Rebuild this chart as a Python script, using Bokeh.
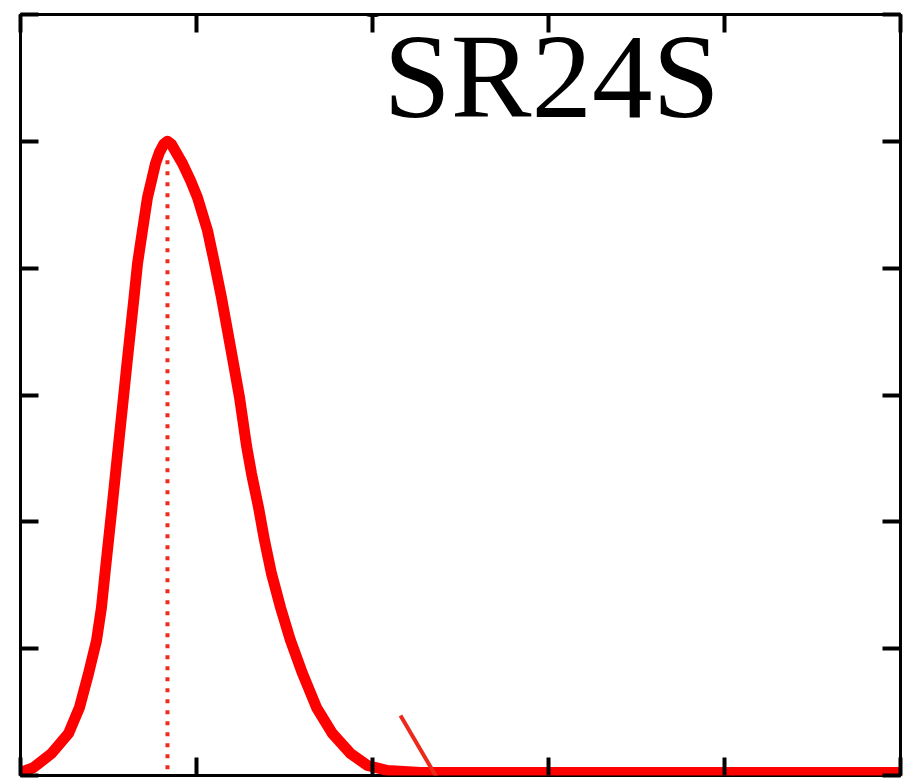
from bokeh.plotting import figure
from bokeh.models import Range1d, FixedTicker, LinearAxis, Label
from bokeh.embed import file_html
from bokeh.resources import INLINE

# ---- data ----
curve_x = [0.0000, 0.0148, 0.0352, 0.0545, 0.0670, 0.0773, 0.0864, 0.0920, 0.0960,
           0.1000, 0.1040, 0.1080, 0.1119, 0.1170, 0.1210, 0.1250, 0.1290, 0.1330,
           0.1386, 0.1443, 0.1489, 0.1534, 0.1580, 0.1630, 0.1670, 0.1715,
           0.1770, 0.1841, 0.1932, 0.2011, 0.2125, 0.2205, 0.2284, 0.2352, 0.2420,
           0.2489, 0.2568, 0.2625, 0.2705, 0.2773, 0.2852, 0.2955, 0.3068, 0.3205,
           0.3364, 0.3545, 0.3750, 0.3943, 0.4170, 0.4545, 0.6591, 1.0000]
curve_y = [0.0047, 0.0126, 0.0347, 0.0662, 0.1072, 0.1608, 0.2129, 0.2649, 0.3185,
           0.3706, 0.4226, 0.4762, 0.5283, 0.5961, 0.6497, 0.7017, 0.7537, 0.8074,
           0.8594, 0.9114, 0.9382, 0.9650, 0.9830, 0.9960, 1.0000, 0.9955,
           0.9820, 0.9650, 0.9382, 0.9114, 0.8594, 0.8074, 0.7537, 0.7017, 0.6497,
           0.5961, 0.5204, 0.4762, 0.4226, 0.3706, 0.3185, 0.2649, 0.2129, 0.1608,
           0.1072, 0.0662, 0.0347, 0.0158, 0.0079, 0.0047, 0.0047, 0.0047]
peak_x = 0.1670
peak_line_y = [0.010, 0.970]
slash_x = [0.4318, 0.4750]
slash_y = [0.0946, -0.0079]
x_ticks = [0.0, 0.2, 0.4, 0.6, 0.8, 1.0]
y_ticks = [0.0, 0.2, 0.4, 0.6, 0.8, 1.0, 1.2]
label_text = "SR24S"
top_text = "g"

p = figure(
    frame_width=880, frame_height=761,
    min_border_left=20, min_border_right=16, min_border_top=14, min_border_bottom=5,
    x_range=Range1d(0, 1.0), y_range=Range1d(0, 1.2),
    output_backend="svg", toolbar_location=None,
    x_axis_location=None, y_axis_location=None,
)
p.background_fill_color = "white"
p.border_fill_color = "white"
p.xgrid.visible = False
p.ygrid.visible = False
p.outline_line_color = "black"
p.outline_line_width = 3


def make_axis(cls_ticks):
    ax = LinearAxis(ticker=FixedTicker(ticks=cls_ticks))
    ax.axis_line_color = None
    ax.major_tick_in = 18
    ax.major_tick_out = 0
    ax.major_tick_line_width = 4
    ax.major_tick_line_color = "black"
    ax.minor_tick_line_color = None
    ax.major_label_text_font_size = "0px"
    ax.major_label_standoff = 0
    return ax


p.add_layout(make_axis(x_ticks), "below")
p.add_layout(make_axis(x_ticks), "above")
p.add_layout(make_axis(y_ticks), "left")
p.add_layout(make_axis(y_ticks), "right")

p.line(curve_x, curve_y, line_color="#ff0000", line_width=11,
       line_join="round", line_cap="round")
p.line([peak_x, peak_x], peak_line_y, line_color="#f02a1e", line_width=4,
       line_dash="4 7", line_cap="butt")
p.line(slash_x, slash_y, line_color="#ec2a1c", line_width=4)

p.add_layout(Label(x=0.4125, y=1.1023, text=label_text,
                   text_font="Liberation Serif", text_font_size="121px",
                   text_color="black", text_align="left", text_baseline="alphabetic"))
p.add_layout(Label(x=0.4025, y=1.2380, text=top_text,
                   text_font="DejaVu Sans", text_font_size="50px",
                   text_color="black", text_align="center", text_baseline="alphabetic"))

open("out.html", "w").write(file_html(p, INLINE))
